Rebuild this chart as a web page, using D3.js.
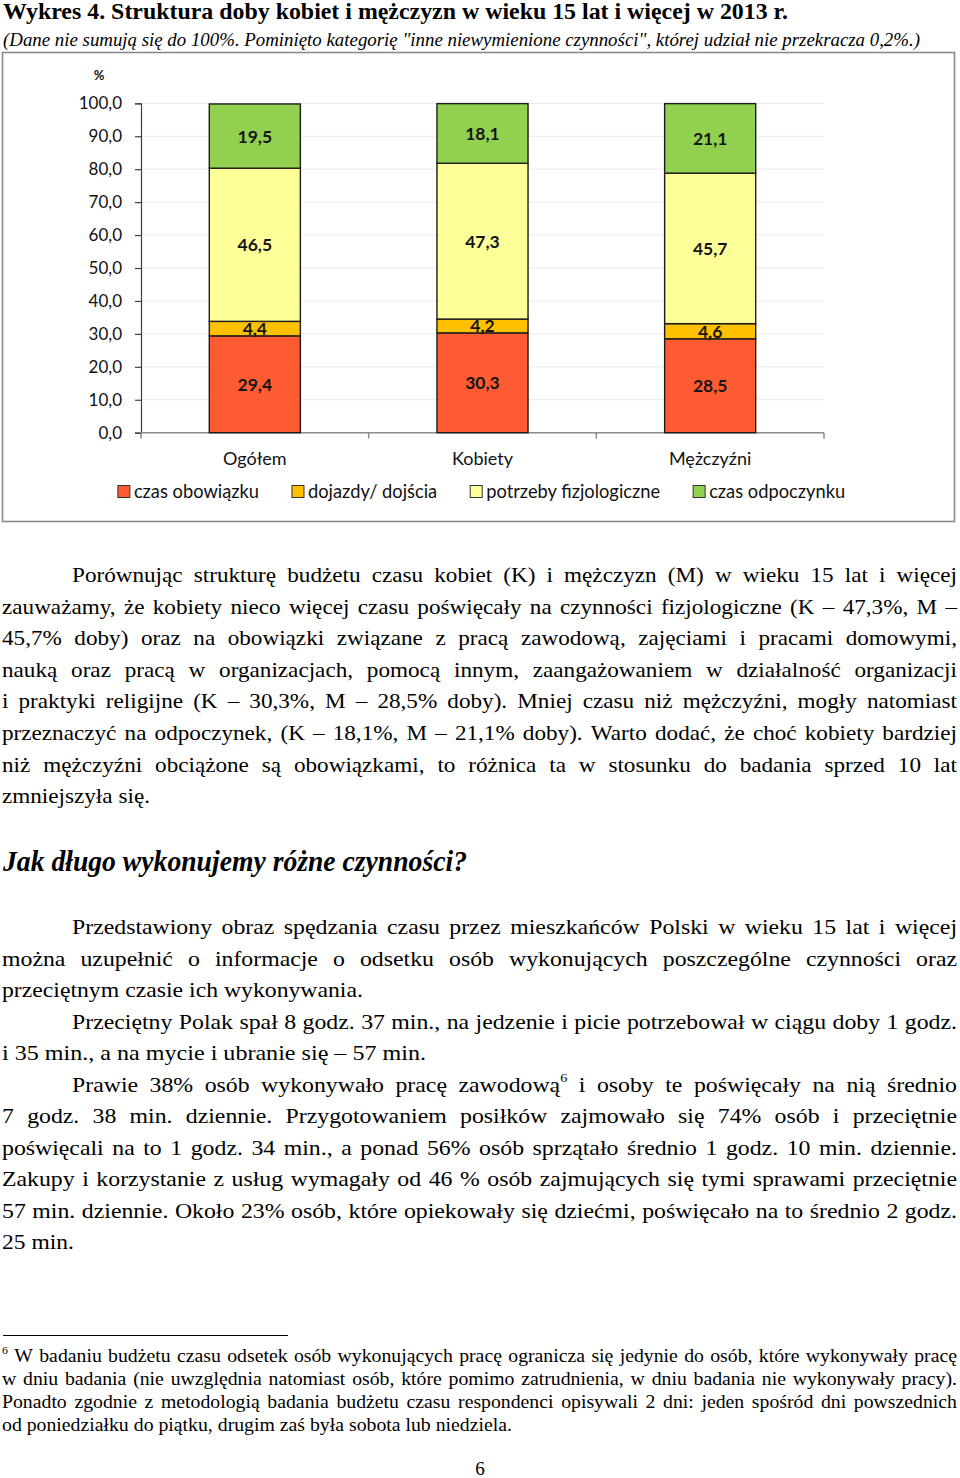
<!DOCTYPE html>
<html><head><meta charset="utf-8">
<script src="https://cdn.jsdelivr.net/npm/d3@7"></script>
<style>body{margin:0;background:#fff} svg{display:block}</style>
</head><body>
<svg id="page" width="960" height="1478"></svg>
<script>
// ---------- chart data ----------
const categories = ["Ogółem", "Kobiety", "Mężczyźni"];
const seriesNames = ["czas obowiązku", "dojazdy/ dojścia", "potrzeby fizjologiczne", "czas odpoczynku"];
const czasObowiazku = [29.4, 30.3, 28.5];
const dojazdyDojscia = [4.4, 4.2, 4.6];
const potrzebyFizjologiczne = [46.5, 47.3, 45.7];
const czasOdpoczynku = [19.5, 18.1, 21.1];
const yTickValues = [0, 10, 20, 30, 40, 50, 60, 70, 80, 90, 100];
const seriesColors = ["#FF5B33", "#FFC000", "#FFFF99", "#92D050"];

// ---------- page text ----------
const titleText = "Wykres 4. Struktura doby kobiet i mężczyzn w wieku 15 lat i więcej w 2013 r.";
const subtitleText = "(Dane nie sumują się do 100%. Pominięto kategorię \"inne niewymienione czynności\", której udział nie przekracza 0,2%.)";
const para1 = [
  ["Porównując strukturę budżetu czasu kobiet (K) i mężczyzn (M) w wieku 15 lat i więcej", 72, 957, true],
  ["zauważamy, że kobiety nieco więcej czasu poświęcały na czynności fizjologiczne (K – 47,3%, M –", 2, 957, true],
  ["45,7% doby) oraz na obowiązki związane z pracą zawodową, zajęciami i pracami domowymi,", 2, 957, true],
  ["nauką oraz pracą w organizacjach, pomocą innym, zaangażowaniem w działalność organizacji", 2, 957, true],
  ["i praktyki religijne (K – 30,3%, M – 28,5% doby). Mniej czasu niż mężczyźni, mogły natomiast", 2, 957, true],
  ["przeznaczyć na odpoczynek, (K – 18,1%, M – 21,1% doby). Warto dodać, że choć kobiety bardziej", 2, 957, true],
  ["niż mężczyźni obciążone są obowiązkami, to różnica ta w stosunku do badania sprzed 10 lat", 2, 957, true],
  ["zmniejszyła się.", 2, 150, false]
];
const headingText = "Jak długo wykonujemy różne czynności?";
const para2 = [
  ["Przedstawiony obraz spędzania czasu przez mieszkańców Polski w wieku 15 lat i więcej", 72, 957, true],
  ["można uzupełnić o informacje o odsetku osób wykonujących poszczególne czynności oraz", 2, 957, true],
  ["przeciętnym czasie ich wykonywania.", 2, 363, false],
  ["Przeciętny Polak spał 8 godz. 37 min., na jedzenie i picie potrzebował w ciągu doby 1 godz.", 72, 957, true],
  ["i 35 min., a na mycie i ubranie się – 57 min.", 2, 426, false],
  ["Prawie 38% osób wykonywało pracę zawodową^6 i osoby te poświęcały na nią średnio", 72, 957, true],
  ["7 godz. 38 min. dziennie. Przygotowaniem posiłków zajmowało się 74% osób i przeciętnie", 2, 957, true],
  ["poświęcali na to 1 godz. 34 min., a ponad 56% osób sprzątało średnio 1 godz. 10 min. dziennie.", 2, 957, true],
  ["Zakupy i korzystanie z usług wymagały od 46 % osób zajmujących się tymi sprawami przeciętnie", 2, 957, true],
  ["57 min. dziennie. Około 23% osób, które opiekowały się dziećmi, poświęcało na to średnio 2 godz.", 2, 957, true],
  ["25 min.", 2, 74, false]
];
const footnote = [
  ["^6 W badaniu budżetu czasu odsetek osób wykonujących pracę ogranicza się jedynie do osób, które wykonywały pracę", 2, 957, true],
  ["w dniu badania (nie uwzględnia natomiast osób, które pomimo zatrudnienia, w dniu badania nie wykonywały pracy).", 2, 957, true],
  ["Ponadto zgodnie z metodologią badania budżetu czasu respondenci opisywali 2 dni: jeden spośród dni powszednich", 2, 957, true],
  ["od poniedziałku do piątku, drugim zaś była sobota lub niedziela.", 2, 512, false]
];

const svg = d3.select("#page");
const SERIF = "\"Liberation Serif\", \"Times New Roman\", serif";
const SANS = "Lato, 'Open Sans', sans-serif";

// ---------- text helpers ----------
function fill(t, word, f) {
  const m = word.match(/^(.*?)\^(\d+)$/);
  if (m) {
    if (m[1]) t.append("tspan").text(m[1]);
    t.append("tspan").style("font-size", (f.size * 0.6) + "px").attr("dy", -f.size * 0.45).text(m[2]);
  } else t.text(word);
}
function styleText(t, f) {
  return t.style("font-family", SERIF).style("font-size", f.size + "px")
    .style("font-weight", f.weight || "normal").style("font-style", f.style || "normal")
    .attr("fill", "#000");
}
function measure(word, f) {
  const t = styleText(svg.append("text"), f);
  fill(t, word, f);
  const w = t.node().getComputedTextLength();
  t.remove();
  return w;
}
function spaceW(f) { return measure("a a", f) - measure("aa", f); }

function layoutBlock(lines, y0, step, f) {
  const g = svg.append("g");
  const sp = spaceW(f);
  const info = lines.map(([str, x0, x1, just]) => {
    const words = str.split(/ +/);
    const ws = words.map(w => measure(w, f));
    const nat = d3.sum(ws) + sp * (words.length - 1);
    return {words, ws, nat, x0, x1, just};
  });
  const free = info.filter(d => !d.just);
  const sBlock = d3.mean(free, d => (d.x1 - d.x0) / d.nat);
  info.forEach((d, i) => {
    const y = y0 + i * step;
    let s, gap;
    if (d.just) {
      s = sBlock;
      const avail = d.x1 - d.x0;
      if (d.nat * s > avail) s = avail / d.nat;
      gap = (avail - d3.sum(d.ws) * s) / (d.words.length - 1);
    } else {
      s = (d.x1 - d.x0) / d.nat;
      gap = sp * s;
    }
    let x = d.x0;
    d.words.forEach((w, k) => {
      const t = styleText(g.append("text"), f).attr("transform", `translate(${x},${y}) scale(${s},1)`);
      fill(t, w, f);
      x += d.ws[k] * s + gap;
    });
  });
}
function singleLine(str, x0, x1, y, f) {
  return styleText(svg.append("text"), f).attr("x", x0).attr("y", y)
    .attr("textLength", x1 - x0).attr("lengthAdjust", "spacingAndGlyphs").text(str);
}

// ---------- title ----------
singleLine(titleText, 3, 788, 19, {size: 23, weight: "bold"});
singleLine(subtitleText, 3, 920, 46, {size: 19, style: "italic"});

// ---------- chart ----------
svg.append("rect").attr("x", 2.5).attr("y", 52.5).attr("width", 952).attr("height", 469)
  .attr("fill", "#fff").attr("stroke", "#8a8a8a").attr("stroke-width", 1.6);

const rows = categories.map((c, i) => ({
  cat: c,
  [seriesNames[0]]: czasObowiazku[i],
  [seriesNames[1]]: dojazdyDojscia[i],
  [seriesNames[2]]: potrzebyFizjologiczne[i],
  [seriesNames[3]]: czasOdpoczynku[i]
}));
const stacked = d3.stack().keys(seriesNames)(rows);

const x = d3.scaleBand().domain(categories).range([141, 824]).paddingInner(0.6).paddingOuter(0.3);
const y = d3.scaleLinear().domain([0, 100]).range([432.7, 103.3]);
const color = d3.scaleOrdinal().domain(seriesNames).range(seriesColors);

// gridlines
svg.append("g").selectAll("line").data(yTickValues.filter(v => v > 0)).join("line")
  .attr("x1", 141).attr("x2", 824).attr("y1", d => y(d)).attr("y2", d => y(d))
  .attr("stroke", "#e9e9e9").attr("stroke-width", 1);

// y axis
const yAxis = svg.append("g").attr("transform", "translate(141,0)")
  .call(d3.axisLeft(y).tickValues(yTickValues).tickSizeOuter(0).tickSize(6).tickPadding(13)
    .tickFormat(d => d3.format(".1f")(d).replace(".", ",")));
yAxis.select(".domain").attr("stroke", "#404040").attr("stroke-width", 1.2);
yAxis.selectAll(".tick line").attr("stroke", "#404040").attr("stroke-width", 1.2);
yAxis.selectAll(".tick text").attr("font-family", SANS).attr("font-size", 17).attr("fill", "#111");

// x axis line + ticks at band boundaries
const step = x.step();
const xBase = y(0);
svg.append("line").attr("x1", 141).attr("x2", 824).attr("y1", xBase).attr("y2", xBase)
  .attr("stroke", "#8c8c8c").attr("stroke-width", 1.5);
svg.append("g").selectAll("line").data(d3.range(categories.length + 1)).join("line")
  .attr("x1", k => x.range()[0] + k * step).attr("x2", k => x.range()[0] + k * step)
  .attr("y1", xBase).attr("y2", xBase + 6).attr("stroke", "#8c8c8c").attr("stroke-width", 1.5);

// bars
const layers = svg.append("g").selectAll("g").data(stacked).join("g").attr("fill", d => color(d.key));
layers.selectAll("rect").data(d => d).join("rect")
  .attr("x", d => x(d.data.cat)).attr("width", x.bandwidth())
  .attr("y", d => y(d[1])).attr("height", d => y(d[0]) - y(d[1]))
  .attr("stroke", "#1c1c1c").attr("stroke-width", 1.4);

// segment labels
svg.append("g").selectAll("g").data(stacked).join("g").selectAll("text").data(d => d).join("text")
  .attr("x", d => x(d.data.cat) + x.bandwidth() / 2)
  .attr("y", d => (y(d[0]) + y(d[1])) / 2 + 6.5)
  .attr("text-anchor", "middle").attr("font-family", SANS).attr("font-weight", "bold")
  .attr("font-size", 17.5).attr("fill", "#151515")
  .text(d => d3.format(".1f")(d[1] - d[0]).replace(".", ","));

// % label
svg.append("text").attr("x", 99).attr("y", 80).attr("text-anchor", "middle")
  .attr("font-family", SANS).attr("font-weight", "bold").attr("font-size", 13).attr("fill", "#111").text("%");

// category labels
svg.append("g").selectAll("text").data(categories).join("text")
  .attr("x", d => x(d) + x.bandwidth() / 2).attr("y", 465).attr("text-anchor", "middle")
  .attr("font-family", SANS).attr("font-size", 18).attr("fill", "#111").text(d => d);

// legend
{
  const lg = svg.append("g");
  const items = lg.selectAll("g").data(seriesNames).join("g");
  items.append("rect").attr("width", 12).attr("height", 12).attr("y", 485.5)
    .attr("fill", d => color(d)).attr("stroke", "#333").attr("stroke-width", 1);
  items.append("text").attr("x", 16).attr("y", 497.5).attr("font-family", SANS)
    .attr("font-size", 18.3).attr("fill", "#111").text(d => d);
  const widths = [];
  items.each(function () { widths.push(d3.select(this).select("text").node().getComputedTextLength()); });
  const gapItems = 33;
  const total = d3.sum(widths) + widths.length * 16 + gapItems * (widths.length - 1);
  let cx = 481.5 - total / 2;
  items.attr("transform", (d, i) => { const t = `translate(${cx},0)`; cx += 16 + widths[i] + gapItems; return t; });
}

// ---------- body text ----------
layoutBlock(para1, 582, 31.6, {size: 22});
singleLine(headingText, 3, 467, 871, {size: 29, weight: "bold", style: "italic"});
layoutBlock(para2, 934, 31.5, {size: 22});

svg.append("line").attr("x1", 3).attr("x2", 288).attr("y1", 1335.5).attr("y2", 1335.5)
  .attr("stroke", "#000").attr("stroke-width", 1);
layoutBlock(footnote, 1362, 23, {size: 18});

styleText(svg.append("text"), {size: 19}).attr("x", 480).attr("y", 1475).attr("text-anchor", "middle").text("6");
</script>
</body></html>
